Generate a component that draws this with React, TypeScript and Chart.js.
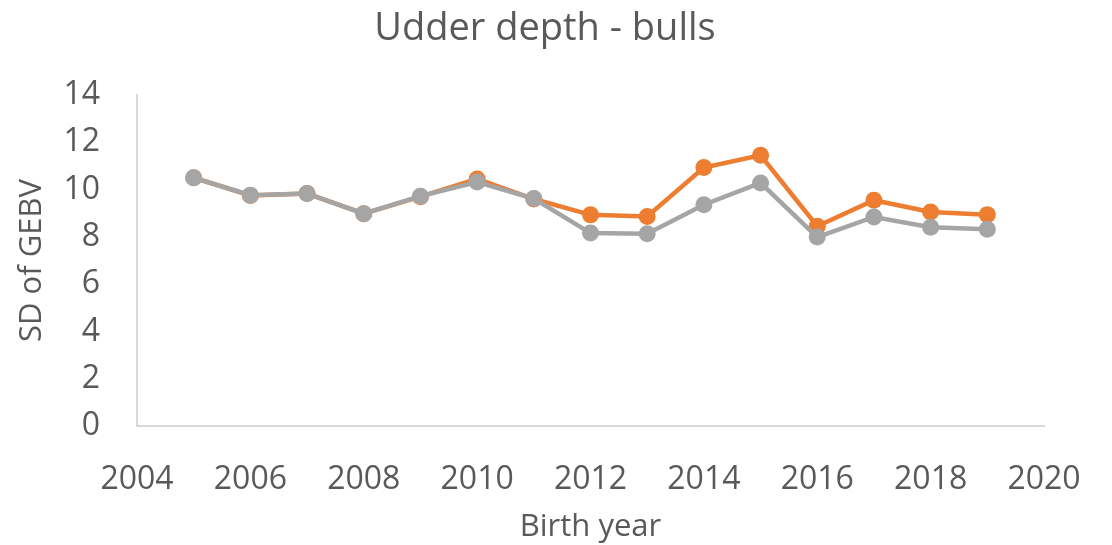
import React, { useEffect, useRef } from "react";
import { Chart, registerables } from "chart.js";

Chart.register(...registerables);

const years = [2005, 2006, 2007, 2008, 2009, 2010, 2011, 2012, 2013, 2014, 2015, 2016, 2017, 2018, 2019];
const orangeSeries = [10.5, 9.75, 9.83, 8.98, 9.7, 10.45, 9.6, 8.93, 8.86, 10.93, 11.45, 8.45, 9.55, 9.05, 8.94];
const graySeries = [10.5, 9.76, 9.83, 8.98, 9.72, 10.32, 9.62, 8.16, 8.13, 9.36, 10.28, 7.99, 8.84, 8.41, 8.32];

const titleText = "Udder depth - bulls";
const xTitle = "Birth year";
const yTitle = "SD of GEBV";

const FONT = "'Open Sans', sans-serif";
const TEXT = "#595959";

const titlePlugin = {
  id: "customTitle",
  afterDraw(chart: any) {
    const ctx = chart.ctx;
    ctx.save();
    ctx.fillStyle = TEXT;
    ctx.font = `normal 38px ${FONT}`;
    ctx.textAlign = "center";
    ctx.textBaseline = "middle";
    ctx.fillText(titleText, 545, 29);
    ctx.restore();
  },
};

export default function App() {
  const ref = useRef<HTMLCanvasElement | null>(null);
  useEffect(() => {
    if (!ref.current) return;
    const chart = new Chart(ref.current, {
      type: "line",
      data: {
        datasets: [
          {
            label: "orange",
            data: years.map((y, i) => ({ x: y, y: orangeSeries[i] })),
            borderColor: "#ED7D31",
            backgroundColor: "#ED7D31",
            borderWidth: 4.5,
            pointRadius: 8.5,
            pointBorderWidth: 0,
            pointHoverRadius: 8.5,
            order: 1,
          },
          {
            label: "gray",
            data: years.map((y, i) => ({ x: y, y: graySeries[i] })),
            borderColor: "#A5A5A5",
            backgroundColor: "#A5A5A5",
            borderWidth: 4.5,
            pointRadius: 8.5,
            pointBorderWidth: 0,
            pointHoverRadius: 8.5,
            order: 0,
          },
        ],
      },
      plugins: [titlePlugin],
      options: {
        animation: false,
        responsive: false,
        maintainAspectRatio: false,
        layout: { padding: { top: 95, right: 68, left: 0, bottom: 0 } },
        plugins: {
          legend: { display: false },
          tooltip: { enabled: false },
          title: { display: false },
        },
        scales: {
          x: {
            type: "linear",
            min: 2004,
            max: 2020,
            ticks: {
              stepSize: 2,
              color: TEXT,
              font: { family: FONT, size: 32 },
              padding: 35,
              callback: (v: any) => String(v),
            },
            grid: { display: false, drawTicks: false },
            border: { display: true, color: "#D9D9D9", width: 2 },
            title: {
              display: true,
              text: xTitle,
              color: TEXT,
              font: { family: FONT, size: 31 },
              padding: { top: 0, bottom: -1 },
            },
            afterFit: (s: any) => {
              s.height = 119;
              s.paddingRight = 0;
              s.paddingLeft = 0;
            },
          },
          y: {
            min: 0,
            max: 14,
            ticks: {
              stepSize: 2,
              color: TEXT,
              font: { family: FONT, size: 32 },
              padding: 37,
            },
            grid: { display: false, drawTicks: false },
            border: { display: true, color: "#D9D9D9", width: 2 },
            title: {
              display: true,
              text: yTitle,
              color: TEXT,
              font: { family: FONT, size: 31 },
              padding: { top: 14, bottom: 0 },
            },
            afterFit: (s: any) => {
              s.width = 137;
              s.paddingTop = 0;
              s.paddingBottom = 0;
            },
          },
        },
      },
    });
    return () => chart.destroy();
  }, []);
  return (
    <div style={{ position: "fixed", left: 0, top: 0, width: 1112, height: 545, background: "#fff" }}>
      <canvas ref={ref} width={1112} height={545} style={{ width: 1112, height: 545 }} />
    </div>
  );
}
